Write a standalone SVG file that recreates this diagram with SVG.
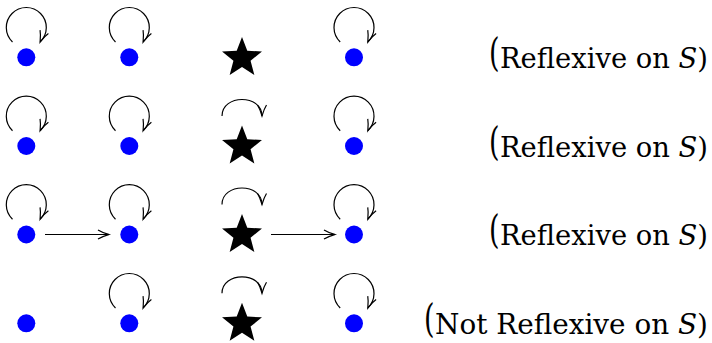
<svg xmlns="http://www.w3.org/2000/svg" width="712" height="343" viewBox="0 0 712 343">
<style>
.dot{fill:#0000ff}
.star{fill:#000}
.edge{fill:none;stroke:#000;stroke-width:1.2;marker-end:url(#arr)}
.loop{fill:none;stroke:#000;stroke-width:1.2;marker-end:url(#arrL)}
.it{font-style:italic}
</style>
<defs>
<marker id="arr" markerUnits="userSpaceOnUse" orient="auto" refX="0" refY="0" markerWidth="30" markerHeight="30" overflow="visible">
<path d="M -11 -4.5 C -7 -2 -2 -0.6 0 0 C -2 0.6 -7 2 -11 4.5" fill="none" stroke="#000" stroke-width="1.2"/>
</marker>
<marker id="arrL" markerUnits="userSpaceOnUse" orient="112" refX="0" refY="0" markerWidth="30" markerHeight="30" overflow="visible">
<path d="M -11 -4.5 C -7 -2 -2 -0.6 0 0 C -2 0.6 -7 2 -11 4.5" fill="none" stroke="#000" stroke-width="1.2"/>
</marker>
<polygon id="starShape" points="0,-21 5.29,-7.28 19.97,-6.49 8.56,2.78 12.34,16.99 0,9 -12.34,16.99 -8.56,2.78 -19.97,-6.49 -5.29,-7.28"/>
</defs>

<g id="r1c1"><circle class="dot" cx="26.3" cy="57.3" r="9"/></g>
<g id="r1c2"><circle class="dot" cx="129.3" cy="57.3" r="9"/></g>
<g id="r1c3"><use href="#starShape" class="star" transform="translate(242,58)"/></g>
<g id="r1c4"><circle class="dot" cx="354" cy="57.3" r="9"/></g>

<g id="r2c1"><circle class="dot" cx="26.3" cy="146" r="9"/></g>
<g id="r2c2"><circle class="dot" cx="129.3" cy="146" r="9"/></g>
<g id="r2c3"><use href="#starShape" class="star" transform="translate(242,146.5)"/></g>
<g id="r2c4"><circle class="dot" cx="354" cy="146" r="9"/></g>

<g id="r3c1"><circle class="dot" cx="26.3" cy="234.5" r="9"/></g>
<g id="r3c2"><circle class="dot" cx="129.3" cy="234.5" r="9"/></g>
<g id="r3c3"><use href="#starShape" class="star" transform="translate(242,235)"/></g>
<g id="r3c4"><circle class="dot" cx="354" cy="234.5" r="9"/></g>

<g id="r4c1"><circle class="dot" cx="26.3" cy="323.3" r="9"/></g>
<g id="r4c2"><circle class="dot" cx="129.3" cy="323.3" r="9"/></g>
<g id="r4c3"><use href="#starShape" class="star" transform="translate(242,323.8)"/></g>
<g id="r4c4"><circle class="dot" cx="354" cy="323.3" r="9"/></g>

<g id="connectors">
<path class="loop" d="M 12.5 42 A 20 20 0 1 1 40.1 42"/>
<path class="loop" d="M 115.5 42 A 20 20 0 1 1 143.1 42"/>
<path class="loop" d="M 340.2 42 A 20 20 0 1 1 367.8 42"/>

<path class="loop" d="M 12.5 130.7 A 20 20 0 1 1 40.1 130.7"/>
<path class="loop" d="M 115.5 130.7 A 20 20 0 1 1 143.1 130.7"/>
<path class="edge" d="M 222 116 C 222 94 262 94 262 116"/>
<path class="loop" d="M 340.2 130.7 A 20 20 0 1 1 367.8 130.7"/>

<path class="loop" d="M 12.5 219.2 A 20 20 0 1 1 40.1 219.2"/>
<path class="loop" d="M 115.5 219.2 A 20 20 0 1 1 143.1 219.2"/>
<path class="edge" d="M 222 204.5 C 222 182.5 262 182.5 262 204.5"/>
<path class="loop" d="M 340.2 219.2 A 20 20 0 1 1 367.8 219.2"/>
<path class="edge" d="M 45 234.5 H 109"/>
<path class="edge" d="M 271 234.5 H 335"/>

<path class="loop" d="M 115.5 308 A 20 20 0 1 1 143.1 308"/>
<path class="edge" d="M 222 293.3 C 222 271.3 262 271.3 262 293.3"/>
<path class="loop" d="M 340.2 308 A 20 20 0 1 1 367.8 308"/>
</g>

<g id="labels" font-family="'DejaVu Serif', 'Liberation Serif', serif" font-size="27" fill="#000">
<text transform="translate(489,65.5) scale(1,1.44)">(</text>
<text x="500" y="67.5" textLength="208" lengthAdjust="spacingAndGlyphs">Reflexive on <tspan class="it">S</tspan>)</text>
<text transform="translate(489,154.5) scale(1,1.44)">(</text>
<text x="500" y="156.5" textLength="208" lengthAdjust="spacingAndGlyphs">Reflexive on <tspan class="it">S</tspan>)</text>
<text transform="translate(489,243) scale(1,1.44)">(</text>
<text x="500" y="245" textLength="208" lengthAdjust="spacingAndGlyphs">Reflexive on <tspan class="it">S</tspan>)</text>
<text transform="translate(424,332) scale(1,1.44)">(</text>
<text x="435" y="334" textLength="273" lengthAdjust="spacingAndGlyphs">Not Reflexive on <tspan class="it">S</tspan>)</text>
</g>
</svg>
